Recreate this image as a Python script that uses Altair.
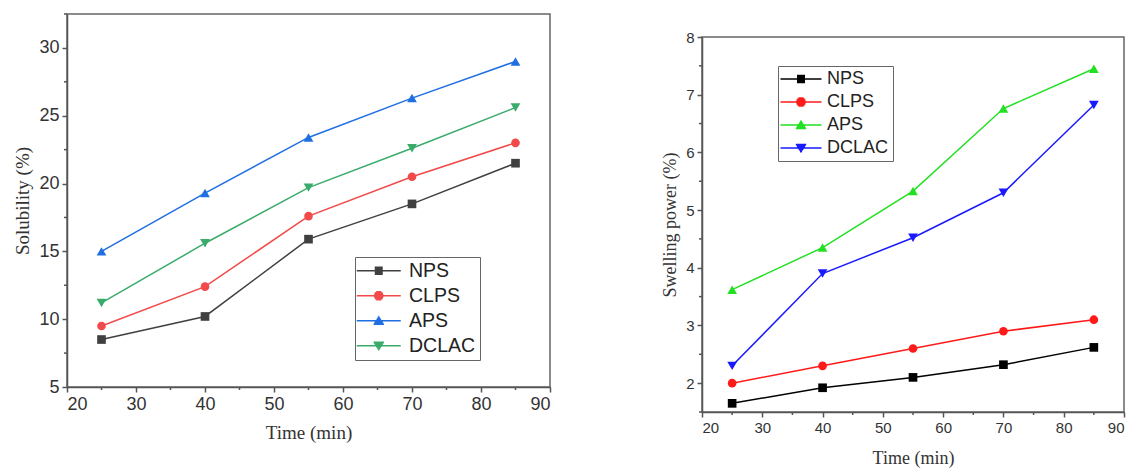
import math
import altair as alt
import pandas as pd

# ---------------- data ----------------
time = [25, 40, 55, 70, 85]
series = ["NPS", "CLPS", "APS", "DCLAC"]

sol_nps = [8.5, 10.2, 15.9, 18.5, 21.5]
sol_clps = [9.5, 12.4, 17.6, 20.5, 23.0]
sol_aps = [15.0, 19.3, 23.4, 26.3, 29.0]
sol_dclac = [11.2, 15.6, 19.7, 22.6, 25.6]

sw_nps = [1.65, 1.92, 2.10, 2.32, 2.62]
sw_clps = [2.0, 2.3, 2.6, 2.9, 3.1]
sw_aps = [3.62, 4.35, 5.33, 6.76, 7.45]
sw_dclac = [2.3, 3.9, 4.52, 5.3, 6.82]

time_ticks = [20, 30, 40, 50, 60, 70, 80, 90]
time_minor = [25, 35, 45, 55, 65, 75, 85]
sol_ticks = [5, 10, 15, 20, 25, 30]
sol_minor = [7.5, 12.5, 17.5, 22.5, 27.5, 32.5]
sw_ticks = [2, 3, 4, 5, 6, 7, 8]
sw_minor = [1.5, 2.5, 3.5, 4.5, 5.5, 6.5, 7.5]

colors_left = ["#404040", "#f24a4a", "#1f6fe3", "#3aab6b"]
colors_right = ["#000000", "#ff1a1a", "#22e022", "#1a1aff"]
point_shapes = ["square", "circle", "triangle-up", "triangle-down"]


# ---- legend glyphs: a line with a solid marker drawn by strokes ----
def _hatch(halfwidth_at, ys):
    parts = []
    for y in ys:
        hw = halfwidth_at(y)
        if hw > 0:
            parts.append(f"M{-hw:.3f},{y:.3f}L{hw:.3f},{y:.3f}")
    return "".join(parts)


def _steps(a, b, n):
    return [a + (b - a) * i / (n - 1) for i in range(n)]


def legend_paths(half_line):
    ln = f"M{-half_line},0L{half_line},0"
    return [
        ln + _hatch(lambda y: 0.8, _steps(-0.7, 0.7, 8)),
        ln + _hatch(lambda y: math.sqrt(max(0.0, 0.95 ** 2 - y ** 2)), _steps(-0.8, 0.8, 9)),
        ln + _hatch(lambda y: 1.1 * (y + 1.0) / 1.8, _steps(-0.85, 0.7, 9)),
        ln + _hatch(lambda y: 1.1 * (1.0 - y) / 1.8, _steps(-0.7, 0.85, 9)),
    ]


def make_df(vals):
    rows = []
    for s, v in zip(series, vals):
        for t, y in zip(time, v):
            rows.append({"time": t, "series": s, "value": y})
    return pd.DataFrame(rows)


def panel(df, colors, ydomain, yticks, yminor, ytitle, w, h, legx, legy,
          lab_size, title_size, title_pad_y, title_pad_x,
          leg_font, leg_row_pad, leg_label_offset, half_line):
    xscale = alt.Scale(domain=[20, 90], nice=False, zero=False)
    yscale = alt.Scale(domain=ydomain, nice=False, zero=False)

    xax = alt.Axis(values=time_ticks, title="Time (min)", format="d",
                   labelFontSize=lab_size, titleFontSize=title_size,
                   titlePadding=title_pad_x)
    yax = alt.Axis(values=yticks, title=ytitle, format="d",
                   labelFontSize=lab_size, titleFontSize=title_size,
                   titlePadding=title_pad_y)

    layers = []
    for i, (s, col) in enumerate(zip(series, colors)):
        base = alt.Chart(df).transform_filter(alt.datum.series == s)
        enc_x = alt.X("time:Q", scale=xscale, axis=xax) if i == 0 else alt.X("time:Q", scale=xscale)
        enc_y = alt.Y("value:Q", scale=yscale, axis=yax) if i == 0 else alt.Y("value:Q", scale=yscale)
        layers.append(base.mark_line(strokeWidth=1.5, color=col).encode(x=enc_x, y=enc_y))
    for s, shp, col in zip(series, point_shapes, colors):
        size = 75 if shp in ("square", "circle") else 95
        pts = alt.Chart(df).transform_filter(alt.datum.series == s).mark_point(
            filled=True, shape=shp, size=size, opacity=1, color=col
        ).encode(
            x=alt.X("time:Q", scale=xscale),
            y=alt.Y("value:Q", scale=yscale),
        )
        layers.append(pts)

    leg = alt.Legend(
        title=None, orient="none", legendX=legx, legendY=legy,
        padding=4, symbolSize=100, symbolStrokeWidth=1.5, symbolOffset=10,
        labelOffset=leg_label_offset, labelFontSize=leg_font,
        labelFont="Liberation Sans", labelColor="#222222",
        rowPadding=leg_row_pad, strokeColor="#666666",
        fillColor="white", symbolOpacity=1,
    )
    legend_layer = alt.Chart(df).transform_filter("false").mark_point(strokeWidth=1.5).encode(
        x=alt.X("time:Q", scale=xscale),
        y=alt.Y("value:Q", scale=yscale),
        color=alt.Color("series:N", scale=alt.Scale(domain=series, range=colors), legend=leg),
        shape=alt.Shape("series:N", scale=alt.Scale(domain=series, range=legend_paths(half_line))),
    )
    layers.append(legend_layer)

    ymin_df = pd.DataFrame({"value": yminor})
    xmin_df = pd.DataFrame({"time": time_minor})
    ym = alt.Chart(ymin_df).mark_rule(color="#555555", strokeWidth=1.5).encode(
        y=alt.Y("value:Q", scale=yscale),
        x=alt.value(0), x2=alt.value(-3),
    )
    xm = alt.Chart(xmin_df).mark_rule(color="#555555", strokeWidth=1.5).encode(
        x=alt.X("time:Q", scale=xscale),
        y=alt.value(h), y2=alt.value(h + 3),
    )
    layers += [ym, xm]
    return alt.layer(*layers).properties(width=w, height=h)


left = panel(make_df([sol_nps, sol_clps, sol_aps, sol_dclac]), colors_left,
             [5, 32.5], sol_ticks, sol_minor, "Solubility (%)", 483, 373,
             288, 243, 18, 19, 6.4, 10,
             19.5, 4, 20.5, 4.4)
right = panel(make_df([sw_nps, sw_clps, sw_aps, sw_dclac]), colors_right,
              [1.5, 8], sw_ticks, sw_minor, "Swelling power (%)", 422, 375,
              76, 29, 15, 18, 6.5, 14,
              18, 5, 17, 4.1)

spacer = alt.Chart(pd.DataFrame({"a": [0]})).mark_point(opacity=0).properties(
    width=1, height=1, view=alt.ViewBackground(stroke="transparent")
)
right_col = alt.vconcat(spacer, right, spacing=11).resolve_scale(
    color="independent", shape="independent"
)

chart = alt.hconcat(left, right_col, spacing=108).resolve_scale(
    color="independent", shape="independent"
).properties(
    padding={"left": 12, "top": 11, "right": 0, "bottom": 0}
).configure_view(
    stroke="#666666", strokeWidth=1.5
).configure_axis(
    grid=False, domainColor="#555555", domainWidth=1.5, tickColor="#555555",
    tickWidth=1.5, tickSize=5, labelPadding=3, labelFont="Liberation Sans",
    labelColor="#333333", titleFont="Liberation Serif",
    titleFontWeight="normal", titleColor="#333333",
)

chart.save("out.html", embed_options={"renderer": "svg", "actions": False})
